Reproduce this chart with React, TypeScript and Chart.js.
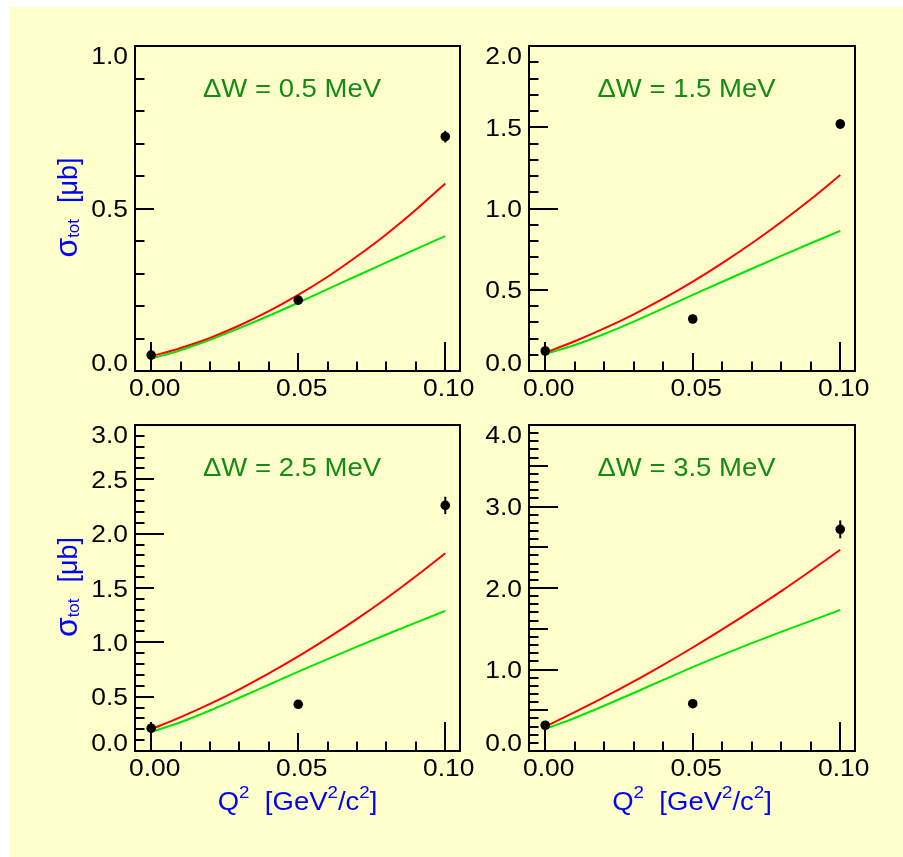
import React, { useEffect, useRef } from "react";
import { Chart, registerables } from "chart.js";

Chart.register(...registerables);

// ---------------- data ----------------
const Q2_DATA = [0, 0.05, 0.1];
const Q2_CURVE = [0, 0.01, 0.02, 0.03, 0.04, 0.05, 0.06, 0.07, 0.08, 0.09, 0.1];
const X_TICK_LABELS = [0, 0.05, 0.1];

const DW_LABELS = ["ΔW = 0.5 MeV", "ΔW = 1.5 MeV", "ΔW = 2.5 MeV", "ΔW = 3.5 MeV"];
const Y_MAX = [1, 2, 3, 4];

const Y_TICKS_DW05 = [0, 0.5, 1.0];
const Y_TICKS_DW15 = [0, 0.5, 1.0, 1.5, 2.0];
const Y_TICKS_DW25 = [0, 0.5, 1.0, 1.5, 2.0, 2.5, 3.0];
const Y_TICKS_DW35 = [0, 1.0, 2.0, 3.0, 4.0];

const SIGMA_DW05 = [0.049, 0.218, 0.721];
const ERR_DW05 = [0.01, 0.015, 0.018];
const RED_DW05 = [0.045, 0.071, 0.102, 0.14, 0.184, 0.234, 0.29, 0.353, 0.421, 0.496, 0.577];
const GREEN_DW05 = [0.038, 0.064, 0.096, 0.132, 0.17, 0.21, 0.252, 0.293, 0.334, 0.375, 0.415];

const SIGMA_DW15 = [0.123, 0.32, 1.52];
const ERR_DW15 = [0.03, 0.02, 0.03];
const RED_DW15 = [0.113, 0.183, 0.262, 0.349, 0.445, 0.55, 0.664, 0.786, 0.917, 1.057, 1.206];
const GREEN_DW15 = [0.105, 0.16, 0.228, 0.304, 0.385, 0.468, 0.549, 0.629, 0.708, 0.786, 0.862];

const SIGMA_DW25 = [0.21, 0.43, 2.26];
const ERR_DW25 = [0.04, 0.03, 0.08];
const RED_DW25 = [0.2, 0.312, 0.434, 0.568, 0.714, 0.87, 1.038, 1.216, 1.406, 1.608, 1.82];
const GREEN_DW25 = [0.175, 0.265, 0.373, 0.49, 0.61, 0.73, 0.846, 0.96, 1.072, 1.182, 1.29];

const SIGMA_DW35 = [0.316, 0.58, 2.72];
const ERR_DW35 = [0.05, 0.04, 0.11];
const RED_DW35 = [0.3, 0.476, 0.66, 0.854, 1.058, 1.27, 1.492, 1.722, 1.962, 2.212, 2.47];
const GREEN_DW35 = [0.27, 0.405, 0.555, 0.712, 0.872, 1.03, 1.18, 1.323, 1.461, 1.597, 1.73];

// ---------------- layout / style ----------------
const W = 903;
const H = 857;
const FONT = "'Liberation Sans', Arial, Helvetica, sans-serif";
const TITLE_BLUE = "#0000ff";
const LABEL_GREEN = "#148c14";

type Part = { t: string; size: number; dy?: number; gap?: number };

const PANELS = [
  { box: [135, 46, 460, 371], label: DW_LABELS[0], yMax: Y_MAX[0], yTicks: Y_TICKS_DW05, sigma: SIGMA_DW05, err: ERR_DW05, red: RED_DW05, green: GREEN_DW05, yTitle: true, xTitle: false },
  { box: [529, 46, 855, 371], label: DW_LABELS[1], yMax: Y_MAX[1], yTicks: Y_TICKS_DW15, sigma: SIGMA_DW15, err: ERR_DW15, red: RED_DW15, green: GREEN_DW15, yTitle: false, xTitle: false },
  { box: [135, 425, 460, 751], label: DW_LABELS[2], yMax: Y_MAX[2], yTicks: Y_TICKS_DW25, sigma: SIGMA_DW25, err: ERR_DW25, red: RED_DW25, green: GREEN_DW25, yTitle: true, xTitle: true },
  { box: [529, 425, 855, 751], label: DW_LABELS[3], yMax: Y_MAX[3], yTicks: Y_TICKS_DW35, sigma: SIGMA_DW35, err: ERR_DW35, red: RED_DW35, green: GREEN_DW35, yTitle: false, xTitle: true },
];

function partWidth(ctx: CanvasRenderingContext2D, p: Part) {
  if (p.gap !== undefined) return p.gap;
  ctx.font = `${p.size}px ${FONT}`;
  return ctx.measureText(p.t).width;
}

function drawRich(
  ctx: CanvasRenderingContext2D,
  parts: Part[],
  x: number,
  y: number,
  sx: number,
  align: "left" | "center" | "right"
) {
  let w = 0;
  for (const p of parts) w += partWidth(ctx, p);
  w *= sx;
  const x0 = align === "center" ? x - w / 2 : align === "right" ? x - w : x;
  ctx.save();
  ctx.translate(x0, y);
  ctx.scale(sx, 1);
  ctx.textAlign = "left";
  ctx.textBaseline = "alphabetic";
  let cx = 0;
  for (const p of parts) {
    const pw = partWidth(ctx, p);
    if (p.gap === undefined) {
      ctx.font = `${p.size}px ${FONT}`;
      ctx.fillText(p.t, cx, p.dy || 0);
    }
    cx += pw;
  }
  ctx.restore();
}

const decorPlugin = {
  id: "panelDecor",
  afterDatasetsDraw(chart: any, _args: any, opts: any) {
    const ctx: CanvasRenderingContext2D = chart.ctx;
    const xs = chart.scales.x;
    const ys = chart.scales.y;
    // error bars
    ctx.save();
    ctx.strokeStyle = "#000";
    ctx.lineWidth = 2;
    opts.sigma.forEach((v: number, i: number) => {
      const px = xs.getPixelForValue(Q2_DATA[i]);
      ctx.beginPath();
      ctx.moveTo(px, ys.getPixelForValue(v - opts.err[i]));
      ctx.lineTo(px, ys.getPixelForValue(v + opts.err[i]));
      ctx.stroke();
    });
    ctx.restore();
  },
  afterDraw(chart: any, _args: any, opts: any) {
    const ctx: CanvasRenderingContext2D = chart.ctx;
    const xs = chart.scales.x;
    const ys = chart.scales.y;
    const { left, right, top, bottom } = chart.chartArea;
    ctx.save();
    ctx.strokeStyle = "#000";
    ctx.lineWidth = 2;
    ctx.lineCap = "butt";
    // x ticks (inside, from bottom)
    for (let i = 0; i <= 10; i++) {
      const px = Math.round(xs.getPixelForValue(i * 0.01));
      const len = i === 0 || i === 10 ? 29 : i === 5 ? 18 : 9.5;
      ctx.beginPath();
      ctx.moveTo(px, bottom);
      ctx.lineTo(px, bottom - len);
      ctx.stroke();
    }
    // y ticks (inside, from left)
    const n = Math.round(opts.yMax * 10);
    for (let i = 1; i < n; i++) {
      const py = Math.round(ys.getPixelForValue(i / 10));
      const len = i % 10 === 0 ? 29 : i % 5 === 0 ? 19 : 9.5;
      ctx.beginPath();
      ctx.moveTo(left, py);
      ctx.lineTo(left + len, py);
      ctx.stroke();
    }
    // frame
    ctx.strokeRect(left, top, right - left, bottom - top);
    ctx.restore();

    // tick labels
    ctx.save();
    ctx.fillStyle = "#000";
    const fs = 24;
    const capH = 0.716 * fs;
    X_TICK_LABELS.forEach((v) => {
      const px = xs.getPixelForValue(v);
      drawRich(ctx, [{ t: v.toFixed(2), size: fs }], px + 3.5, bottom + 25, 1.1, "center");
    });
    opts.yTicks.forEach((v: number) => {
      const py = ys.getPixelForValue(v);
      let base = py + capH / 2;
      base = Math.max(top + capH + 0.5, Math.min(bottom, base));
      drawRich(ctx, [{ t: v.toFixed(1), size: fs }], left - 7, base, 1.1, "right");
    });
    ctx.restore();

    // panel label
    ctx.save();
    ctx.fillStyle = LABEL_GREEN;
    drawRich(ctx, [{ t: opts.label, size: 25 }], (left + right) / 2 - 5.5, top + 50.5, 1.1, "center");
    ctx.restore();

    // y title
    if (opts.yTitle) {
      ctx.save();
      ctx.fillStyle = TITLE_BLUE;
      ctx.translate(left - 58.5, (top + bottom) / 2 - 1);
      ctx.rotate(-Math.PI / 2);
      drawRich(
        ctx,
        [
          { t: "σ", size: 32 },
          { t: "tot", size: 17, dy: 2 },
          { t: "", size: 0, gap: 16 },
          { t: "[μb]", size: 27 },
        ],
        0,
        0,
        1,
        "center"
      );
      ctx.restore();
    }
    // x title
    if (opts.xTitle) {
      ctx.save();
      ctx.fillStyle = TITLE_BLUE;
      drawRich(
        ctx,
        [
          { t: "Q", size: 25 },
          { t: "2", size: 17, dy: -12 },
          { t: "", size: 0, gap: 14 },
          { t: "[GeV", size: 25 },
          { t: "2", size: 17, dy: -12 },
          { t: "/c", size: 25 },
          { t: "2", size: 17, dy: -12 },
          { t: "]", size: 25 },
        ],
        (left + right) / 2,
        bottom + 59,
        1.1,
        "center"
      );
      ctx.restore();
    }
  },
};

function Panel({ cfg }: { cfg: (typeof PANELS)[number] }) {
  const ref = useRef<HTMLCanvasElement | null>(null);
  useEffect(() => {
    if (!ref.current) return;
    const [l, t, r, b] = cfg.box;
    const chart = new Chart(ref.current, {
      type: "scatter",
      data: {
        datasets: [
          {
            data: cfg.sigma.map((y, i) => ({ x: Q2_DATA[i], y })),
            showLine: false,
            pointRadius: 4.8,
            pointBackgroundColor: "#000",
            pointBorderWidth: 0,
            borderWidth: 0,
          },
          {
            data: cfg.red.map((y, i) => ({ x: Q2_CURVE[i], y })),
            showLine: true,
            borderColor: "#ff0000",
            borderWidth: 2,
            pointRadius: 0,
            cubicInterpolationMode: "monotone",
          },
          {
            data: cfg.green.map((y, i) => ({ x: Q2_CURVE[i], y })),
            showLine: true,
            borderColor: "#00e600",
            borderWidth: 2,
            pointRadius: 0,
            cubicInterpolationMode: "monotone",
          },
        ],
      } as any,
      options: {
        animation: false,
        responsive: false,
        maintainAspectRatio: false,
        events: [],
        layout: { padding: { left: l, top: t, right: W - r, bottom: H - b } },
        scales: {
          x: { type: "linear", min: -0.0055, max: 0.105, display: false },
          y: { type: "linear", min: 0, max: cfg.yMax, display: false },
        },
        plugins: {
          legend: { display: false },
          tooltip: { enabled: false },
          panelDecor: {
            sigma: cfg.sigma,
            err: cfg.err,
            yMax: cfg.yMax,
            yTicks: cfg.yTicks,
            label: cfg.label,
            yTitle: cfg.yTitle,
            xTitle: cfg.xTitle,
          },
        } as any,
      },
      plugins: [decorPlugin],
    });
    return () => chart.destroy();
  }, [cfg]);
  return (
    <canvas
      ref={ref}
      width={W}
      height={H}
      style={{ position: "absolute", left: 0, top: 0, width: W, height: H }}
    />
  );
}

export default function App() {
  return (
    <div
      style={{
        position: "absolute",
        left: 0,
        top: 0,
        width: W,
        height: H,
        background: "#ffffff",
        overflow: "hidden",
      }}
    >
      <div
        style={{
          position: "absolute",
          left: 9,
          top: 7,
          width: W - 9,
          height: H - 7,
          background: "#ffffcc",
        }}
      />
      {PANELS.map((p, i) => (
        <Panel key={i} cfg={p} />
      ))}
    </div>
  );
}
